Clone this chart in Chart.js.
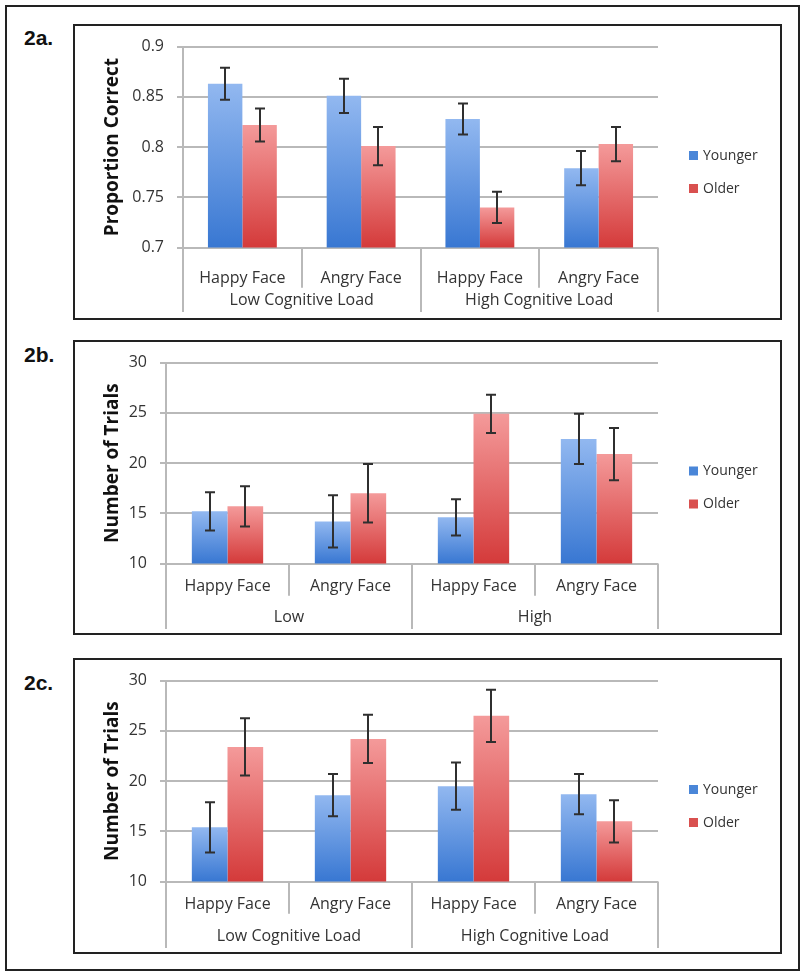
<!DOCTYPE html>
<html><head><meta charset="utf-8">
<script src="https://cdn.jsdelivr.net/npm/chart.js@4"></script>
<style>
html,body{margin:0;padding:0;background:#fff;}
body{width:800px;height:971px;position:relative;overflow:hidden;}
#frame{position:absolute;left:5px;top:5px;width:795px;height:966px;border:2px solid #222;box-sizing:border-box;}
.panel{position:absolute;left:73px;width:709px;border:2px solid #222;box-sizing:border-box;}
.lab{position:absolute;left:24px;font:bold 21px 'Liberation Sans',Arial,sans-serif;color:#111;line-height:1;}
canvas{position:absolute;}
</style></head>
<body>
<div id="frame"></div>
<div class="panel" style="top:24px;height:296px"></div>
<div class="panel" style="top:340px;height:295px"></div>
<div class="panel" style="top:658px;height:296px"></div>
<div class="lab" style="top:27px">2a.</div>
<div class="lab" style="top:344px">2b.</div>
<div class="lab" style="top:672px">2c.</div>
<div style="position:absolute;left:73px;top:24px;width:709px;height:296px"><canvas id="ca"></canvas></div>
<div style="position:absolute;left:73px;top:340px;width:709px;height:295px"><canvas id="cb"></canvas></div>
<div style="position:absolute;left:73px;top:658px;width:709px;height:296px"><canvas id="cc"></canvas></div>
<script>
// ---------- data ----------
const categories = ['Happy Face', 'Angry Face', 'Happy Face', 'Angry Face'];
const seriesNames = ['Younger', 'Older'];
const groupsA = ['Low Cognitive Load', 'High Cognitive Load'];
const groupsB = ['Low', 'High'];
const groupsC = ['Low Cognitive Load', 'High Cognitive Load'];

const aYounger = [0.863, 0.851, 0.828, 0.779];
const aYoungerErr = [0.016, 0.017, 0.0155, 0.017];
const aOlder = [0.822, 0.801, 0.740, 0.803];
const aOlderErr = [0.0165, 0.019, 0.0155, 0.017];
const aTicks = [0.7, 0.75, 0.8, 0.85, 0.9];

const bYounger = [15.2, 14.2, 14.6, 22.4];
const bYoungerErr = [1.9, 2.6, 1.8, 2.5];
const bOlder = [15.7, 17.0, 24.9, 20.9];
const bOlderErr = [2.0, 2.9, 1.9, 2.6];
const bTicks = [10, 15, 20, 25, 30];

const cYounger = [15.4, 18.6, 19.5, 18.7];
const cYoungerErr = [2.5, 2.1, 2.35, 2.0];
const cOlder = [23.4, 24.2, 26.5, 16.0];
const cOlderErr = [2.85, 2.4, 2.6, 2.1];
const cTicks = [10, 15, 20, 25, 30];

// ---------- styling ----------
Chart.defaults.font.family = "'Open Sans', sans-serif";
Chart.defaults.color = '#333';
const BLUE = {light: '#92b8f0', dark: '#3877d2', solid: '#4a86d8'};
const RED = {light: '#f49a9a', dark: '#d43a3a', solid: '#d9504f'};
const GRID = '#b9b9b9';
const LINE_H = 16 * 1.2;

function gradFill(pal) {
  return function (ctx) {
    const chart = ctx.chart;
    const area = chart.chartArea;
    if (!area || ctx.type !== 'data') return pal.solid;
    const top = chart.scales.y.getPixelForValue(ctx.raw);
    const g = chart.ctx.createLinearGradient(0, top, 0, area.bottom);
    g.addColorStop(0, pal.light);
    g.addColorStop(1, pal.dark);
    return g;
  };
}

const errorBars = {
  id: 'errorBars',
  afterDatasetsDraw(chart) {
    const ctx = chart.ctx, y = chart.scales.y;
    ctx.save();
    ctx.strokeStyle = '#2f2f2f';
    ctx.lineWidth = 2;
    chart.data.datasets.forEach((ds, di) => {
      const meta = chart.getDatasetMeta(di);
      meta.data.forEach((bar, i) => {
        const v = ds.data[i], e = ds.errors[i];
        const yt = y.getPixelForValue(v + e), yb = y.getPixelForValue(v - e);
        const x = Math.round(bar.x);
        ctx.beginPath();
        ctx.moveTo(x, yt); ctx.lineTo(x, yb);
        ctx.moveTo(x - 5, yt); ctx.lineTo(x + 5, yt);
        ctx.moveTo(x - 5, yb); ctx.lineTo(x + 5, yb);
        ctx.stroke();
      });
    });
    ctx.restore();
  }
};

const separators = {
  id: 'separators',
  afterDraw(chart) {
    const ctx = chart.ctx, x = chart.scales.x, x2 = chart.scales.x2, area = chart.chartArea;
    const n = chart.data.labels.length;
    ctx.save();
    ctx.strokeStyle = GRID;
    ctx.lineWidth = 2;
    for (let i = 0; i <= n; i++) {
      let px;
      if (i === 0) px = area.left;
      else if (i === n) px = area.right;
      else px = (x.getPixelForValue(i - 1) + x.getPixelForValue(i)) / 2;
      const yEnd = (i % 2 === 0) ? x2.bottom + 2 : x.bottom;
      ctx.beginPath();
      ctx.moveTo(Math.round(px), area.bottom);
      ctx.lineTo(Math.round(px), yEnd);
      ctx.stroke();
    }
    ctx.restore();
  }
};

const sideLegend = {
  id: 'sideLegend',
  afterDraw(chart) {
    const ctx = chart.ctx, area = chart.chartArea;
    const cy = chart.height / 2;
    const x0 = area.right + 31;
    ctx.save();
    ctx.font = "14px 'Open Sans', sans-serif";
    ctx.textBaseline = 'middle';
    ctx.textAlign = 'left';
    chart.data.datasets.forEach((ds, i) => {
      const yc = cy - 16 + i * 33;
      ctx.fillStyle = ds.legendColor;
      ctx.fillRect(x0, yc - 5, 9, 9);
      ctx.fillStyle = '#333';
      ctx.fillText(ds.label, x0 + 14, yc);
    });
    ctx.restore();
  }
};

function makeChart(id, opts) {
  const tickVals = opts.ticks;
  return new Chart(document.getElementById(id), {
    type: 'bar',
    data: {
      labels: categories,
      datasets: [
        {label: seriesNames[0], data: opts.younger, errors: opts.youngerErr,
         backgroundColor: gradFill(BLUE), legendColor: BLUE.solid, borderWidth: 0},
        {label: seriesNames[1], data: opts.older, errors: opts.olderErr,
         backgroundColor: gradFill(RED), legendColor: RED.solid, borderWidth: 0}
      ]
    },
    options: {
      responsive: true,
      maintainAspectRatio: false,
      animation: false,
      datasets: {bar: {categoryPercentage: 0.58, barPercentage: 1.0}},
      layout: {padding: {left: 0, right: 124, top: opts.padTop, bottom: opts.padBottom}},
      plugins: {legend: {display: false}, tooltip: {enabled: false}},
      scales: {
        x: {
          type: 'category',
          position: 'bottom',
          grid: {display: false, drawTicks: false},
          border: {display: false},
          afterFit(scale) { scale.height = opts.xPad + LINE_H; },
          ticks: {font: {size: 16}, color: '#333', padding: opts.xPad, maxRotation: 0, autoSkip: false}
        },
        x2: {
          type: 'category',
          position: 'bottom',
          labels: opts.groups,
          grid: {display: false, drawTicks: false},
          border: {display: false},
          afterFit(scale) { scale.height = opts.x2Pad + LINE_H; },
          ticks: {font: {size: 16}, color: '#333', padding: opts.x2Pad, maxRotation: 0, autoSkip: false}
        },
        y: {
          min: tickVals[0],
          max: tickVals[tickVals.length - 1],
          afterFit(scale) { scale.width = opts.yWidth; },
          afterBuildTicks(scale) { scale.ticks = tickVals.map(v => ({value: v})); },
          grid: {color: GRID, lineWidth: 2, tickLength: 6, drawTicks: true},
          border: {display: true, color: GRID, width: 2},
          ticks: {font: {size: 16}, color: '#333', padding: 13, callback: v => String(Math.round(v * 100) / 100)},
          title: {display: true, text: opts.title, font: {size: 19, weight: 'bold'}, color: '#111', padding: {top: 28, bottom: 0}}
        }
      }
    },
    plugins: [errorBars, separators, sideLegend]
  });
}

makeChart('ca', {younger: aYounger, youngerErr: aYoungerErr, older: aOlder, olderErr: aOlderErr,
  ticks: aTicks, groups: groupsA, title: 'Proportion Correct', yWidth: 110,
  padTop: 19, padBottom: 10, xPad: 21, x2Pad: 3});
makeChart('cb', {younger: bYounger, youngerErr: bYoungerErr, older: bOlder, olderErr: bOlderErr,
  ticks: bTicks, groups: groupsB, title: 'Number of Trials', yWidth: 93,
  padTop: 22, padBottom: 8, xPad: 13, x2Pad: 12});
makeChart('cc', {younger: cYounger, youngerErr: cYoungerErr, older: cOlder, olderErr: cOlderErr,
  ticks: cTicks, groups: groupsC, title: 'Number of Trials', yWidth: 93,
  padTop: 21, padBottom: 8, xPad: 13, x2Pad: 13});
</script>
</body></html>
